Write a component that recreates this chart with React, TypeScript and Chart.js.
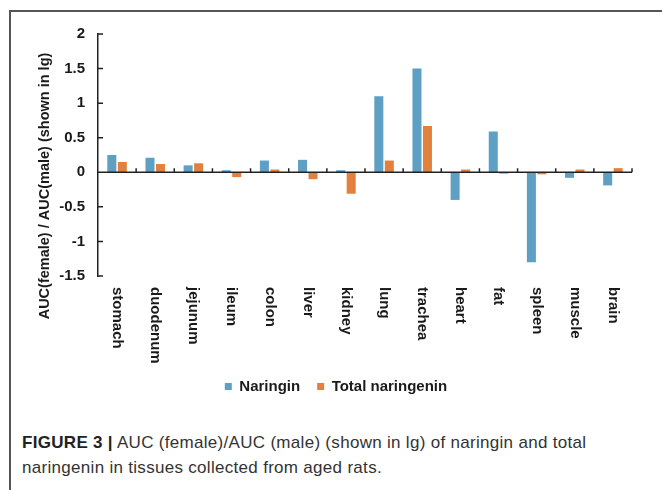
import React, { useEffect, useRef } from 'react';
import { Chart, registerables } from 'chart.js';

Chart.register(...registerables);

const categories = ['stomach', 'duodenum', 'jejunum', 'ileum', 'colon', 'liver', 'kidney', 'lung', 'trachea', 'heart', 'fat', 'spleen', 'muscle', 'brain'];
const naringin = [0.25, 0.21, 0.1, 0.03, 0.17, 0.18, 0.03, 1.1, 1.5, -0.4, 0.59, -1.3, -0.08, -0.19];
const totalNaringenin = [0.15, 0.12, 0.13, -0.07, 0.04, -0.1, -0.31, 0.17, 0.67, 0.04, -0.02, -0.03, 0.04, 0.06];
const yTicks = [-1.5, -1, -0.5, 0, 0.5, 1, 1.5, 2];
const yTickLabels = ['-1.5', '-1', '-0.5', '0', '0.5', '1', '1.5', '2'];
const seriesNames = ['Naringin', 'Total naringenin'];
const yTitle = 'AUC(female) / AUC(male) (shown in lg)';

const FONT = '"Liberation Sans", Arial, Helvetica, sans-serif';
const INK = '#1a1a1a';

const customPlugin = {
  id: 'customAxes',
  afterDatasetsDraw(chart: any) {
    const { ctx, chartArea, scales } = chart;
    const x = scales.x;
    const y = scales.y;
    const y0 = y.getPixelForValue(0);
    ctx.save();
    ctx.strokeStyle = '#222';
    ctx.lineWidth = 1.5;
    ctx.beginPath();
    ctx.moveTo(chartArea.left, y0);
    ctx.lineTo(chartArea.right, y0);
    const n = categories.length;
    const step = (chartArea.right - chartArea.left) / n;
    for (let i = 1; i <= n; i++) {
      const px = chartArea.left + i * step;
      ctx.moveTo(px, y0);
      ctx.lineTo(px, y0 - 4);
    }
    yTicks.forEach((v) => {
      const py = y.getPixelForValue(v);
      ctx.moveTo(chartArea.left, py);
      ctx.lineTo(chartArea.left + 5, py);
    });
    ctx.stroke();

    ctx.fillStyle = INK;
    ctx.font = 'bold 15px ' + FONT;
    ctx.textAlign = 'left';
    ctx.textBaseline = 'middle';
    categories.forEach((c, i) => {
      const px = x.getPixelForValue(i);
      ctx.save();
      ctx.translate(px, chartArea.bottom + 11);
      ctx.rotate(Math.PI / 2);
      ctx.fillText(c, 0, 0);
      ctx.restore();
    });

    ctx.font = 'bold 14.5px ' + FONT;
    ctx.textAlign = 'center';
    ctx.save();
    ctx.translate(chartArea.left - 53, (chartArea.top + chartArea.bottom) / 2 + 31);
    ctx.rotate(-Math.PI / 2);
    ctx.fillText(yTitle, 0, 0);
    ctx.restore();
    ctx.restore();
  },
};

function BarChart() {
  const ref = useRef<HTMLCanvasElement | null>(null);
  useEffect(() => {
    if (!ref.current) return;
    const chart = new Chart(ref.current, {
      type: 'bar',
      data: {
        labels: categories,
        datasets: [
          { label: seriesNames[0], data: naringin, backgroundColor: '#5DA0C4', borderWidth: 0 },
          { label: seriesNames[1], data: totalNaringenin, backgroundColor: '#E2813E', borderWidth: 0 },
        ],
      },
      options: {
        animation: false,
        responsive: false,
        maintainAspectRatio: false,
        layout: { padding: { top: 22, right: 0, left: 0, bottom: 0 } },
        datasets: { bar: { categoryPercentage: 0.55, barPercentage: 0.86 } },
        plugins: {
          tooltip: { enabled: false },
          legend: {
            position: 'bottom',
            labels: {
              boxWidth: 7,
              boxHeight: 7,
              padding: 17,
              color: INK,
              font: { family: FONT, size: 15, weight: 'bold' },
            },
          },
        },
        scales: {
          x: {
            grid: { display: false },
            border: { display: false },
            ticks: { display: false },
            afterFit: (s: any) => { s.height = 86; },
          },
          y: {
            min: -1.5,
            max: 2,
            grid: { display: false, drawTicks: false },
            border: { display: true, color: '#222', width: 1.5 },
            afterBuildTicks: (s: any) => { s.ticks = yTicks.map((v) => ({ value: v })); },
            afterFit: (s: any) => { s.width = 86; },
            ticks: {
              padding: 13,
              color: INK,
              font: { family: FONT, size: 15, weight: 'bold' },
              callback: (v: any) => {
                const i = yTicks.indexOf(Number(v));
                return i >= 0 ? yTickLabels[i] : '';
              },
            },
          },
          spacer: {
            type: 'linear',
            position: 'right',
            display: true,
            grid: { display: false },
            border: { display: false },
            ticks: { display: false },
            afterFit: (s: any) => { s.width = 28; },
          },
        },
      },
      plugins: [customPlugin],
    });
    return () => chart.destroy();
  }, []);
  return <canvas ref={ref} width={648} height={392} style={{ position: 'absolute', left: 12, top: 12, width: 648, height: 392 }} />;
}

export default function App() {
  return (
    <div style={{ position: 'fixed', left: 0, top: 0, width: 662, height: 490, background: '#fff', overflow: 'hidden' }}>
      <div style={{ position: 'absolute', left: 9, top: 10, right: 0, bottom: 0, borderTop: '2px solid #555', borderLeft: '2px solid #555' }} />
      <BarChart />
      <div style={{ position: 'absolute', left: 22, top: 430, width: 630, fontFamily: FONT, fontSize: 17, letterSpacing: '0.3px', lineHeight: '25px', color: '#333' }}>
        <b style={{ color: '#222' }}>FIGURE 3 |</b> AUC (female)/AUC (male) (shown in lg) of naringin and total<br />naringenin in tissues collected from aged rats.
      </div>
    </div>
  );
}
